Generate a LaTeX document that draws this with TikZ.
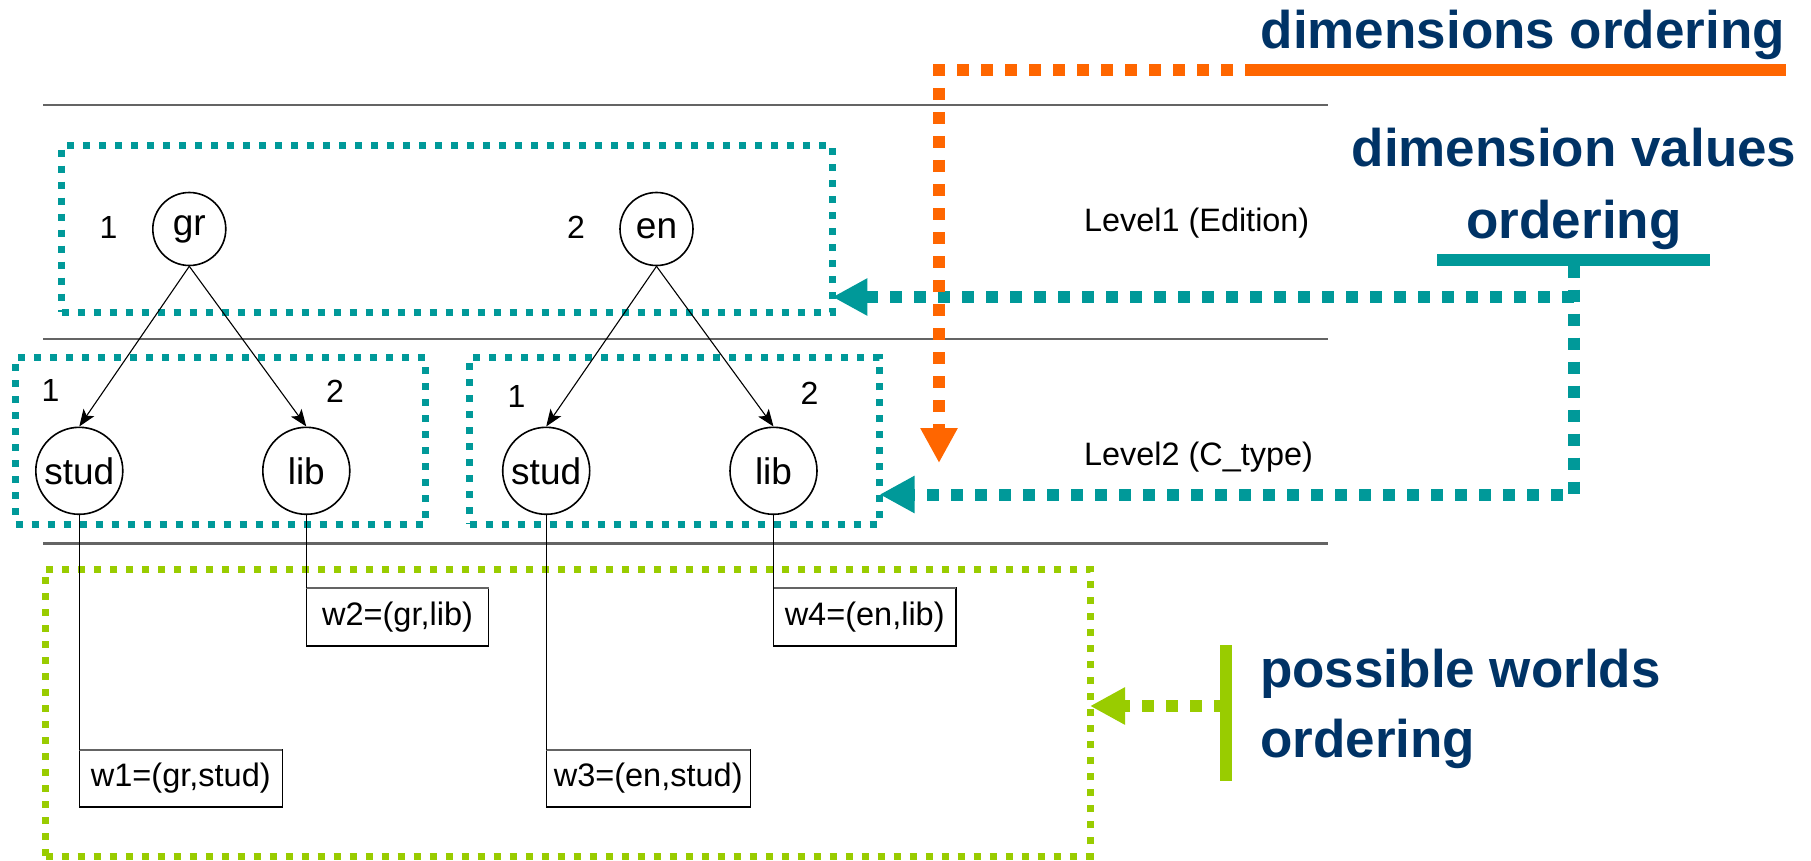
\documentclass[tikz,border=0pt]{standalone}
\usepackage{fontspec}
\setmainfont{Liberation Sans}
\usetikzlibrary{arrows.meta}
\definecolor{navy}{RGB}{0,51,102}
\definecolor{dimorange}{RGB}{255,102,0}
\definecolor{dimteal}{RGB}{0,153,153}
\definecolor{worldgreen}{RGB}{153,204,0}
\definecolor{rulegray}{RGB}{100,100,100}

\begin{document}
\begin{tikzpicture}[x=1pt,y=-1pt,
  sep/.style={draw=rulegray, line width=2.2pt},
  groupbox/.style={rectangle, draw, line width=7pt, dash pattern=on 7pt off 9pt,
    inner sep=0pt, outer sep=0pt, anchor=north west},
  value/.style={circle, draw, line width=1.6pt, inner sep=0pt,
    font=\fontsize{37}{44}\selectfont},
  world/.style={rectangle, draw, line width=1.3pt, inner sep=0pt, outer sep=0pt,
    anchor=north west, font=\fontsize{32.5}{39}\selectfont},
  worldtop/.style={draw=rulegray, line width=2.4pt},
  rank/.style={inner sep=0pt, font=\fontsize{32}{38}\selectfont},
  levelname/.style={inner sep=0pt, anchor=base west, font=\fontsize{32.4}{39}\selectfont},
  caption/.style={inner sep=0pt, text=navy, font=\bfseries\fontsize{53}{64}\selectfont},
  edge/.style={line width=1.1pt, -{Stealth[length=17pt,width=13pt,inset=4pt]}},
  drop/.style={line width=1.1pt},
  bar/.style={line width=12pt},
  dots/.style={line width=12pt, dash pattern=on 12pt off 12pt,
    -{Triangle[length=35pt,width=35pt]}},
]
\useasboundingbox (0,0) rectangle (1811,861);

% level separators
\draw[sep] (43,105) -- (1328,105);
\draw[sep] (43,339) -- (1328,339);
\draw[sep] (43,543.5) -- (1328,543.5);

% grouping frames
\node[groupbox, draw=dimteal, minimum width=770.7pt, minimum height=166.6pt] (lvlone) at (61.7,145.7) {};
\node[groupbox, draw=dimteal, minimum width=409.5pt, minimum height=166.3pt] (grbox) at (15.5,357.7) {};
\node[groupbox, draw=dimteal, minimum width=410pt, minimum height=166.3pt] (enbox) at (469.6,357.7) {};
\node[groupbox, draw=worldgreen, minimum width=1044.4pt, minimum height=287pt] (pwbox) at (45.6,569) {};

% dimension values
\node[value, minimum size=73pt] (gr) at (189.3,229) {gr};
\node[value, minimum size=73pt] (en) at (656.5,229) {en};
\node[value, minimum size=87pt] (grstud) at (79.3,470.8) {stud};
\node[value, minimum size=87pt] (grlib) at (306.3,470.8) {lib};
\node[value, minimum size=87pt] (enstud) at (546.2,470.8) {stud};
\node[value, minimum size=87pt] (enlib) at (773.5,470.8) {lib};

% value ranks
\node[rank] (rgr) at (108.5,227) {1};
\node[rank] (ren) at (576,227) {2};
\node[rank] (rgrstud) at (50.5,390) {1};
\node[rank] (rgrlib) at (335,391) {2};
\node[rank] (renstud) at (516.6,396) {1};
\node[rank] (renlib) at (809.5,393) {2};

% hierarchy edges
\draw[edge] (gr.south) -- (grstud.north);
\draw[edge] (gr.south) -- (grlib.north);
\draw[edge] (en.south) -- (enstud.north);
\draw[edge] (en.south) -- (enlib.north);

% level names
\node[levelname] (lvl1) at (1084,231.5) {Level1 (Edition)};
\node[levelname] (lvl2) at (1084,465) {Level2 (C\_type)};

% possible worlds
\node[world, minimum width=203pt, minimum height=57pt] (w1) at (79.3,750) {w1=(gr,stud)};
\node[world, minimum width=182.4pt, minimum height=58.3pt] (w2) at (306.3,587.7) {w2=(gr,lib)};
\node[world, minimum width=204pt, minimum height=57pt] (w3) at (546.2,750) {w3=(en,stud)};
\node[world, minimum width=182.4pt, minimum height=58.3pt] (w4) at (773.5,587.7) {w4=(en,lib)};
\foreach \w in {w1,w2,w3,w4}
  \draw[worldtop] (\w.north west) -- (\w.north east);

\draw[drop] (grstud.south) -- (w1.north west);
\draw[drop] (grlib.south) -- (w2.north west);
\draw[drop] (enstud.south) -- (w3.north west);
\draw[drop] (enlib.south) -- (w4.north west);

% dimension values ordering (teal)
\coordinate (tL) at (1437,259.5);
\coordinate (tR) at (1710,259.5);
\coordinate (tdrop) at (1573.6,265.5);
\coordinate (tbranch) at (1573.6,297);
\coordinate (tlow) at (1573.6,494.5);
\draw[bar, dimteal] (tL) -- (tR);
\draw[dots, dimteal] (tbranch) -- (tbranch -| lvlone.east);
\draw[dots, dimteal] (tdrop) -- (tlow) -- (tlow -| enbox.east);

% possible worlds ordering (green)
\coordinate (gT) at (1226,645);
\coordinate (gB) at (1226,781);
\coordinate (gmid) at (1226,706);
\draw[bar, worldgreen] (gT) -- (gB);
\draw[dots, worldgreen] (gmid) -- (gmid -| pwbox.east);

% dimensions ordering (orange)
\coordinate (oL) at (1257,70);
\coordinate (oR) at (1786,70);
\coordinate (otip) at (939,463);
\draw[bar, dimorange] (oL) -- (oR);
\draw[dots, dimorange] (oL) -| (otip);

% captions
\node[caption, anchor=base west] (dimord) at (1260.5,49) {dimensions ordering};
\node[caption, anchor=base] (dvone) at (1574,167) {dimension values};
\node[caption, anchor=base] (dvtwo) at (1574,238) {ordering};
\node[caption, anchor=base west] (pwone) at (1260,687) {possible worlds};
\node[caption, anchor=base west] (pwtwo) at (1260,757.5) {ordering};
\end{tikzpicture}
\end{document}
